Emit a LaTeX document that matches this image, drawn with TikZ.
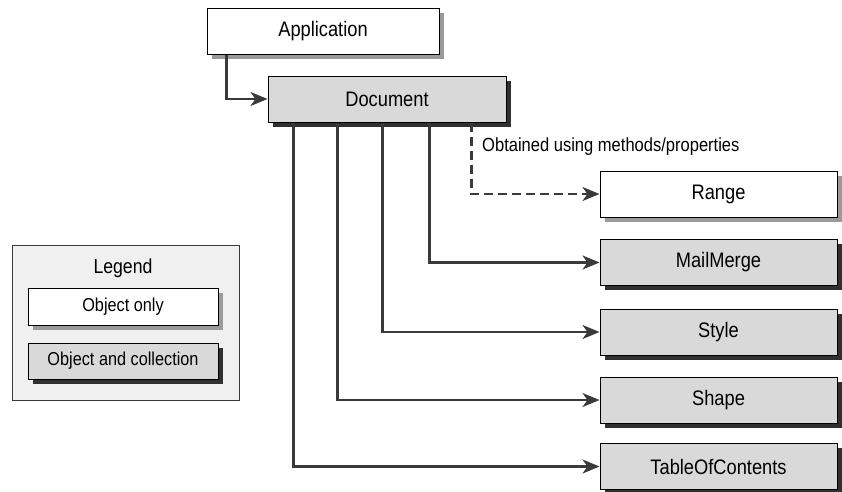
\documentclass[tikz,border=0pt]{standalone}
\usepackage{fontspec}
\setmainfont[FakeStretch=0.87]{Liberation Sans}
\usetikzlibrary{arrows.meta,shadows}

\definecolor{linecol}{HTML}{3A3A3A}
\definecolor{boxgray}{HTML}{D9D9D9}
\definecolor{legendbg}{HTML}{F0F0F0}
\definecolor{lightshadow}{HTML}{9A9A9A}
\definecolor{darkshadow}{HTML}{303030}

\tikzset{
  objbox/.style={draw=black, line width=1pt, fill=white,
    minimum width=232pt, minimum height=46pt, inner sep=0pt,
    font=\fontsize{21}{23}\selectfont,
    drop shadow={shadow xshift=4.5pt, shadow yshift=-4.5pt, fill=lightshadow, opacity=1}},
  collbox/.style={objbox, fill=boxgray,
    drop shadow={shadow xshift=4.5pt, shadow yshift=-4.5pt, fill=darkshadow, opacity=1}},
  smallobj/.style={objbox, minimum width=190pt, minimum height=37pt,
    font=\fontsize{18.7}{20}\selectfont},
  smallcoll/.style={collbox, minimum width=190pt, minimum height=36pt,
    font=\fontsize{18.7}{20}\selectfont},
  link/.style={draw=linecol, line width=2.4pt,
    -{Stealth[length=17pt, width=14pt, inset=5pt]}},
  obtained/.style={link, dash pattern=on 9pt off 5pt},
}

\begin{document}
\begin{tikzpicture}[x=1pt, y=-1pt]
  \useasboundingbox (0,0) rectangle (842,491);

  % legend panel
  \node[draw=linecol, line width=1pt, fill=legendbg, minimum width=227pt,
        minimum height=155pt, anchor=north west] (legend) at (12,245) {};
  \node[font=\fontsize{20.3}{22}\selectfont] (legendtitle) at (123,268) {Legend};
  \node[smallobj] (keyobj) at (123,306.5) {Object only};
  \node[smallcoll] (keycoll) at (123,361) {Object and collection};

  % object hierarchy
  \node[objbox] (app) at (323,31) {Application};
  \node[collbox, minimum width=238pt] (doc) at (387,99) {Document};

  \node[objbox, minimum width=237pt] (range) at (718.5,194) {Range};
  \node[collbox, minimum width=237pt] (mail) at (718.5,262.5) {MailMerge};
  \node[collbox, minimum width=237pt] (style) at (718.5,332) {Style};
  \node[collbox, minimum width=237pt] (shape) at (718.5,400) {Shape};
  \node[collbox, minimum width=237pt] (toc) at (718.5,466.5) {TableOfContents};

  % connectors
  \draw[link] ([xshift=20pt]app.south west) |- (doc.west);
  \draw[obtained] ([xshift=204pt]doc.south west) |- (range.west);
  \draw[link] ([xshift=162pt]doc.south west) |- (mail.west);
  \draw[link] ([xshift=115pt]doc.south west) |- (style.west);
  \draw[link] ([xshift=70pt]doc.south west) |- (shape.west);
  \draw[link] ([xshift=26pt]doc.south west) |- (toc.west);

  \node[anchor=west, font=\fontsize{19}{21}\selectfont, inner sep=0pt]
    (obtainedlabel) at (482,147) {Obtained using methods/properties};
\end{tikzpicture}
\end{document}
